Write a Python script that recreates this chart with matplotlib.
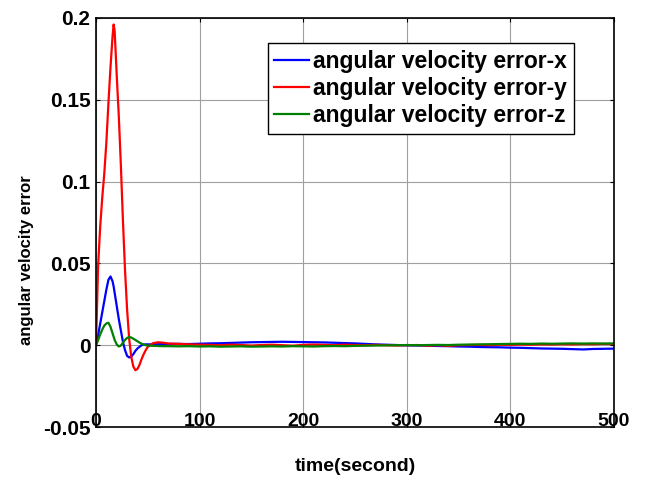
import matplotlib
matplotlib.use("Agg")
import matplotlib.pyplot as plt

# time samples (s): dense around the transient, then every 10 s
t_early = [0, 2, 4, 6, 8, 10, 12, 14, 16, 17, 18, 20, 22, 24, 26, 28, 30, 32, 34, 36,
           38, 40, 42, 44, 46, 48, 50, 55, 60, 65, 70]
t_late = list(range(80, 510, 10))
t = t_early + t_late

# angular velocity error
err_x = [0.0, 0.006, 0.013, 0.020, 0.027, 0.034, 0.040, 0.042, 0.039, 0.036, 0.032, 0.024,
         0.016, 0.009, 0.002, -0.003, -0.0065, -0.0075, -0.007, -0.0055, -0.0035, -0.002,
         -0.001, 0.0, 0.0004, 0.0005, 0.0005, 0.0005, 0.0006, 0.0007, 0.0008,
         0.0008, 0.0007, 0.0009, 0.0011, 0.0012, 0.0014, 0.0016, 0.0018, 0.0019, 0.0020,
         0.0021, 0.0020, 0.0019, 0.0018, 0.0017, 0.0015, 0.0013, 0.0011, 0.0008, 0.0005,
         0.0003, 0.0001, -0.0001, -0.0002, -0.0003, -0.0005, -0.0006, -0.0008, -0.0009,
         -0.0011, -0.0012, -0.0013, -0.0015, -0.0016, -0.0018, -0.0020, -0.0021, -0.0022,
         -0.0024, -0.0026, -0.0023, -0.0022, -0.0021]
err_y = [0.0, 0.048, 0.072, 0.090, 0.105, 0.124, 0.148, 0.170, 0.189, 0.196, 0.192, 0.165,
         0.140, 0.110, 0.076, 0.046, 0.022, 0.004, -0.007, -0.013, -0.0153, -0.0145,
         -0.012, -0.0085, -0.0055, -0.003, -0.001, 0.0012, 0.0018, 0.0015, 0.0010,
         0.0008, 0.0005, 0.0003, 0.0002, 0.0, 0.0003, 0.0001, -0.0002, 0.0001, 0.0003,
         0.0, -0.0003, 0.0002, 0.0004, 0.0002, 0.0, 0.0003, 0.0001, 0.0, 0.0002,
         0.0, -0.0002, 0.0, 0.0001, -0.0003, 0.0, -0.0004, 0.0, 0.0001, 0.0002,
         0.0, 0.0003, 0.0002, 0.0004, 0.0003, 0.0005, 0.0004, 0.0006, 0.0005, 0.0007,
         0.0006, 0.0008, 0.0007]
err_z = [0.0, 0.003, 0.0065, 0.0095, 0.012, 0.0133, 0.0137, 0.0112, 0.0072, 0.0052, 0.0032,
         0.0005, -0.0008, -0.0002, 0.0015, 0.0032, 0.0044, 0.0050, 0.0047, 0.0040, 0.0032,
         0.0024, 0.0016, 0.0009, 0.0004, 0.0, -0.0002, -0.0004, -0.0005, -0.0006, -0.0006,
         -0.0007, -0.0006, -0.0008, -0.0007, -0.0009, -0.0008, -0.0007, -0.0009, -0.0008,
         -0.0007, -0.0008, -0.0006, -0.0007, -0.0008, -0.0006, -0.0005, -0.0006, -0.0004,
         -0.0003, -0.0002, -0.0001, 0.0, 0.0001, 0.0, 0.0001, 0.0002, 0.0001, 0.0003,
         0.0004, 0.0005, 0.0006, 0.0007, 0.0008, 0.0009, 0.0008, 0.0010, 0.0009, 0.0010,
         0.0011, 0.0010, 0.0011, 0.0010, 0.0011]

labels = ["angular velocity error-x", "angular velocity error-y", "angular velocity error-z"]
colors = ["#0000ff", "#ff0000", "#008000"]

xticks = [0, 100, 200, 300, 400, 500]
yticks = [-0.05, 0, 0.05, 0.1, 0.15, 0.2]
ytick_labels = ["-0.05", "0", "0.05", "0.1", "0.15", "0.2"]

font = ["Liberation Sans", "DejaVu Sans"]

fig = plt.figure(figsize=(6.5, 4.82), dpi=100)
ax = fig.add_axes([0.1477, 0.1141, 0.7969, 0.8486])

for y, c, lab in zip([err_x, err_y, err_z], colors, labels):
    ax.plot(t, y, color=c, lw=1.6, label=lab)

ax.set_xlim(0, 500)
ax.set_ylim(-0.05, 0.2)
ax.set_xticks(xticks)
ax.set_xticklabels([str(v) for v in xticks], family=font, fontweight="bold", fontsize=14)
ax.set_yticks(yticks)
ax.set_yticklabels(ytick_labels, family=font, fontweight="bold", fontsize=15)
ax.tick_params(direction="in", top=True, right=True, length=3, width=0.8)
ax.tick_params(axis="x", pad=-10)
ax.tick_params(axis="y", pad=4)
ax.grid(True, color="#a0a0a0", lw=0.8)
for s in ax.spines.values():
    s.set_linewidth(1.2)

ax.set_xlabel("time(second)", family=font, fontweight="bold", fontsize=14)
ax.xaxis.set_label_coords(0.5, -0.076)
ax.set_ylabel("angular velocity error", family=font, fontweight="bold", fontsize=12)
ax.yaxis.set_label_coords(-0.12, 0.407)

leg = ax.legend(loc="upper right", bbox_to_anchor=(0.923, 0.939), borderaxespad=0,
                prop={"family": font, "weight": "bold", "size": 16.5},
                fancybox=False, edgecolor="black", framealpha=1,
                handlelength=1.5, handletextpad=0.2, borderpad=0.3, labelspacing=0.18)
leg.get_frame().set_linewidth(1.0)

fig.savefig("out.png", dpi=100)
